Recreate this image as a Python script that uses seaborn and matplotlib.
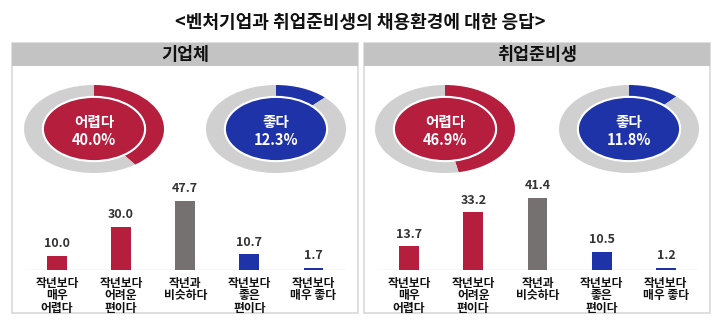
import matplotlib
matplotlib.use("Agg")
import matplotlib.pyplot as plt
from matplotlib.patches import Rectangle, Ellipse
import pandas as pd
import seaborn as sns

# ---- data -------------------------------------------------------------
title = "<벤처기업과 취업준비생의 채용환경에 대한 응답>"
groups = ["기업체", "취업준비생"]
categories = ["작년보다\n매우\n어렵다", "작년보다\n어려운\n편이다", "작년과\n비슷하다",
              "작년보다\n좋은\n편이다", "작년보다\n매우 좋다"]
corp_values = [10.0, 30.0, 47.7, 10.7, 1.7]
seeker_values = [13.7, 33.2, 41.4, 10.5, 1.2]
hard_share = [40.0, 46.9]
good_share = [12.3, 11.8]
hard_label = "어렵다"
good_label = "좋다"

RED = "#B51E3D"
BLUE = "#1F33A8"
GRAY = "#767171"
RING = "#D0D0D0"
HEADER = "#C3C3C3"
BORDER = "#D9D9D9"
TEXT = "#333333"
bar_colors = [RED, RED, GRAY, BLUE, BLUE]

sns.set_style("white")
plt.rcParams["font.family"] = ["Noto Sans CJK KR", "DejaVu Sans"]

W, H = 720, 325
fig = plt.figure(figsize=(W / 100, H / 100), dpi=100)


def box(x0, y0, x1, y1):
    """Pixel box (top-left origin) -> figure fraction rectangle."""
    return [x0 / W, 1 - y1 / H, (x1 - x0) / W, (y1 - y0) / H]


fig.text(0.5, 1 - 22 / H, title, ha="center", va="center",
         fontsize=13, fontweight="bold", color="#111111")

panels = [
    dict(x0=12, x1=358, donuts=(94, 276), bars=(25, 345.5), per_unit=1.45,
         values=corp_values),
    dict(x0=364, x1=710, donuts=(445, 629), bars=(377, 698), per_unit=1.745,
         values=seeker_values),
]

for i, p in enumerate(panels):
    # panel frame and header band (kept behind the axes)
    fig.patches.append(Rectangle((p["x0"] / W, 1 - 313 / H),
                                 (p["x1"] - p["x0"]) / W, (313 - 43) / H,
                                 transform=fig.transFigure, facecolor="white",
                                 edgecolor=BORDER, linewidth=1.2, zorder=-2))
    fig.patches.append(Rectangle((p["x0"] / W, 1 - 65.5 / H),
                                 (p["x1"] - p["x0"]) / W, 22.5 / H,
                                 transform=fig.transFigure, facecolor=HEADER,
                                 edgecolor="none", zorder=-1))
    fig.text((p["x0"] + p["x1"]) / 2 / W, 1 - 55 / H, groups[i],
             ha="center", va="center", fontsize=12.5, fontweight="bold",
             color="#111111")

    # donuts
    for cx, share, color, label in zip(p["donuts"], (hard_share[i], good_share[i]),
                                       (RED, BLUE), (hard_label, good_label)):
        ax = fig.add_axes(box(cx - 70, 129 - 44, cx + 70, 129 + 44))
        ax.pie([share, 100 - share], colors=[color, RING], radius=1.0,
               startangle=90, counterclock=False,
               wedgeprops=dict(width=0.26, edgecolor="none"))
        ax.add_patch(Ellipse((0, 0), 1.46, 1.46, facecolor=color,
                             edgecolor="white", linewidth=1.5))
        ax.text(0, 0.17, label, ha="center", va="center", color="white",
                fontsize=10.5, fontweight="bold")
        ax.text(0, -0.24, f"{share:.1f}%", ha="center", va="center",
                color="white", fontsize=10.5, fontweight="bold")
        ax.set_aspect("auto")
        ax.set_xlim(-1, 1)
        ax.set_ylim(-1, 1)
        ax.axis("off")

    # bars
    bx0, bx1 = p["bars"]
    ax = fig.add_axes(box(bx0, 190, bx1, 270))
    df = pd.DataFrame({"category": categories, "value": p["values"]})
    sns.barplot(data=df, x="category", y="value", hue="category",
                palette=bar_colors, width=0.31, saturation=1, legend=False,
                linewidth=0, ax=ax)
    ax.axhline(0, color=BORDER, linewidth=1.0, zorder=0.5)
    for bar in ax.patches:
        bar.set_zorder(3)
    for cont in ax.containers:
        ax.bar_label(cont, fmt="%.1f", padding=4, fontsize=9,
                     fontweight="bold", color=TEXT)
    ax.set_xlim(-0.5, 4.5)
    ax.set_ylim(0, 80 / p["per_unit"])
    ax.set_xlabel("")
    ax.set_ylabel("")
    ax.set_yticks([])
    ax.tick_params(axis="x", length=0, pad=5)
    ax.set_xticks(range(len(categories)))
    ax.set_xticklabels(categories, fontsize=8.5, fontweight="bold",
                       color="#111111", linespacing=0.95)
    for side in ("top", "left", "right", "bottom"):
        ax.spines[side].set_visible(False)
    ax.patch.set_alpha(0)

fig.savefig("out.png", dpi=100)
